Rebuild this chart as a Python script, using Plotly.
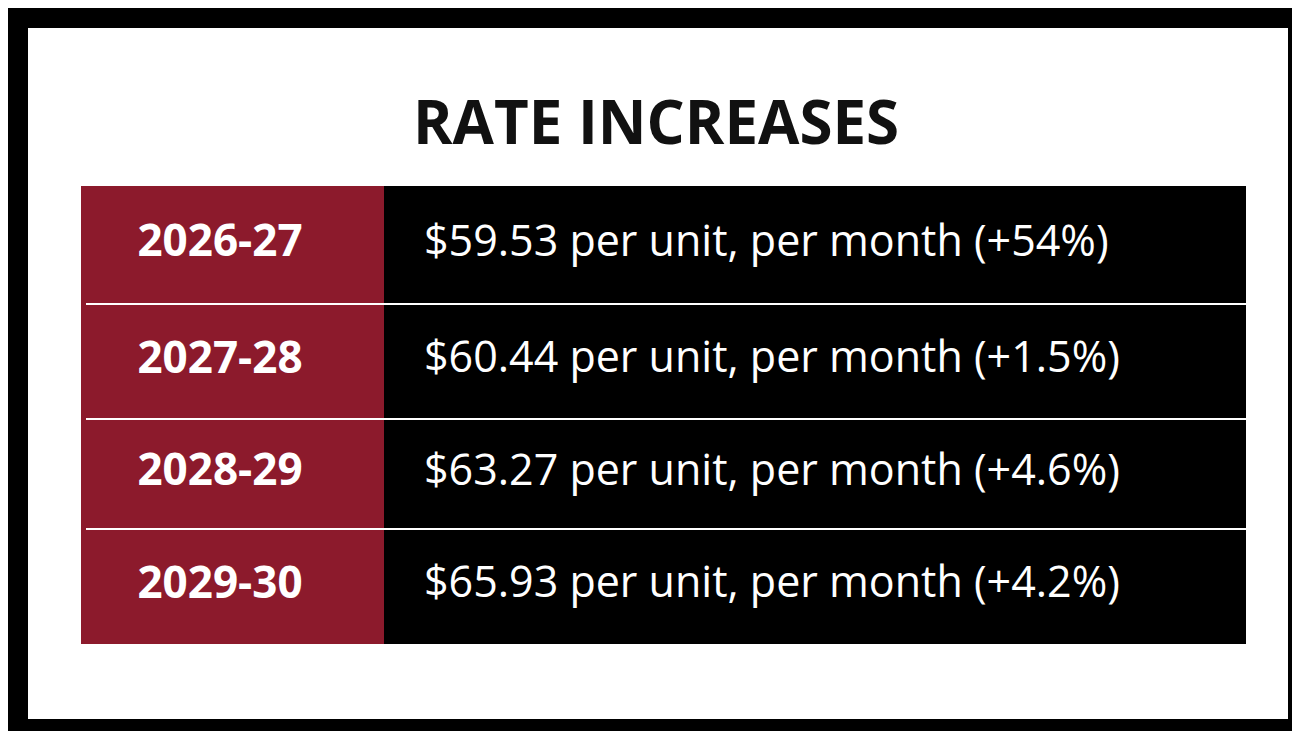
import plotly.graph_objects as go

# data
years = ["2026-27", "2027-28", "2028-29", "2029-30"]
prices = [59.53, 60.44, 63.27, 65.93]
changes = ["+54%", "+1.5%", "+4.6%", "+4.2%"]
title = "RATE INCREASES"

W, H = 1300, 731
RED = "#8c1a2c"
row_edges = [178, 296, 411, 521, 636]
left, split, right = 73, 376, 1238

fig = go.Figure()
shapes = [
    dict(type="rect", x0=0, x1=W, y0=0, y1=H, fillcolor="black", line_width=0, layer="below"),
    dict(type="rect", x0=20, x1=W - 20, y0=20, y1=H - 20, fillcolor="white", line_width=0, layer="below"),
    dict(type="rect", x0=left, x1=split, y0=row_edges[0], y1=row_edges[-1], fillcolor=RED, line_width=0, layer="below"),
    dict(type="rect", x0=split, x1=right, y0=row_edges[0], y1=row_edges[-1], fillcolor="black", line_width=0, layer="below"),
]
for y in row_edges[1:-1]:
    shapes.append(dict(type="line", x0=left + 5, x1=right, y0=y, y1=y, line=dict(color="white", width=2)))

mids = [(a + b) / 2 for a, b in zip(row_edges[:-1], row_edges[1:])]
fig.add_trace(go.Scatter(
    x=[212] * len(years), y=mids, mode="text", text=[f"<b>{y}</b>" for y in years],
    textfont=dict(family="Open Sans", size=44, color="white"), hoverinfo="skip"))
fig.add_trace(go.Scatter(
    x=[416] * len(prices), y=mids, mode="text", textposition="middle right",
    text=[f"${p:.2f} per unit, per month ({c})" for p, c in zip(prices, changes)],
    textfont=dict(family="Open Sans", size=43, color="white"), hoverinfo="skip"))

fig.add_annotation(x=648, y=113, text=f"<b>{title}</b>", showarrow=False,
                   font=dict(family="Open Sans", size=60, color="#111"))

fig.update_layout(
    width=W, height=H, margin=dict(l=0, r=0, t=0, b=0), showlegend=False,
    shapes=shapes, plot_bgcolor="white", paper_bgcolor="black",
    xaxis=dict(range=[0, W], visible=False, fixedrange=True),
    yaxis=dict(range=[H, 0], visible=False, fixedrange=True),
)
fig.write_html("out.html")
